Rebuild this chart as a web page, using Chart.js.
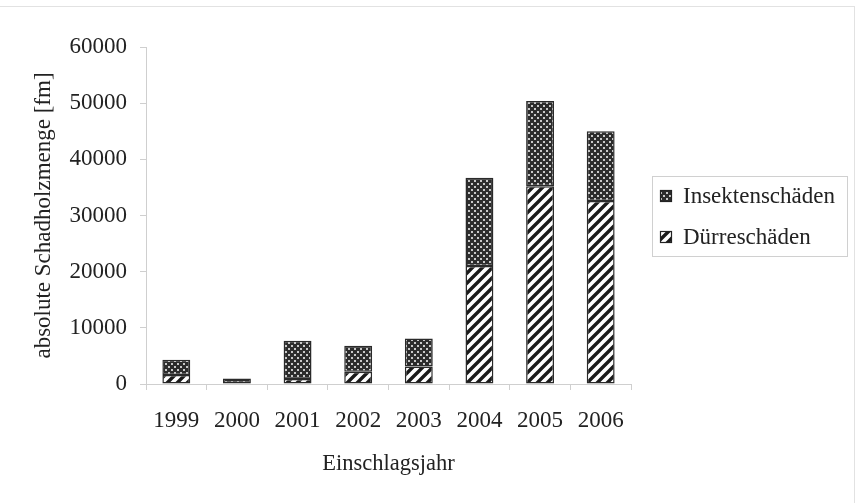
<!DOCTYPE html>
<html>
<head>
<meta charset="utf-8">
<script src="https://cdn.jsdelivr.net/npm/chart.js@4"></script>
<style>
  html, body { margin: 0; padding: 0; background: #fff; }
  #wrap { position: relative; width: 857px; height: 503px; }
  #frame { position: absolute; left: 0; top: 6px; width: 855px; height: 497px;
           border-top: 1px solid #e2e2e2; border-right: 1px solid #e2e2e2; box-sizing: border-box; }
  canvas { position: absolute; left: 0; top: 0; }
</style>
</head>
<body>
<div id="wrap">
  <div id="frame"></div>
  <canvas id="chart" width="857" height="503"></canvas>
</div>
<script>
const jahre = ["1999", "2000", "2001", "2002", "2003", "2004", "2005", "2006"];
const duerre = [1600, 200, 900, 2200, 3100, 21000, 35200, 32600];
const insekten = [2700, 800, 6800, 4600, 5000, 15700, 15200, 12400];
const yTicks = [0, 10000, 20000, 30000, 40000, 50000, 60000];

const FONT = "'Liberation Serif', 'Times New Roman', serif";
const TXT = "#222";
const FS = 23;

/* ---------- Muster ---------- */
function musterStreifen() {
  const c = document.createElement("canvas");
  c.width = 10; c.height = 10;
  const g = c.getContext("2d");
  g.fillStyle = "#fff";
  g.fillRect(0, 0, 10, 10);
  g.strokeStyle = "#1a1a1a";
  g.lineWidth = 3.4;
  g.beginPath();
  g.moveTo(-5, 5); g.lineTo(5, -5);
  g.moveTo(0, 10); g.lineTo(10, 0);
  g.moveTo(5, 15); g.lineTo(15, 5);
  g.stroke();
  return g.createPattern(c, "repeat");
}

// dunkler Grund mit versetzten hellen Punkten
function musterPunkte() {
  const c = document.createElement("canvas");
  c.width = 6; c.height = 6;
  const g = c.getContext("2d");
  g.fillStyle = "#2c2c2c";
  g.fillRect(0, 0, 6, 6);
  g.fillStyle = "#c8c8c8";
  g.fillRect(0, 0, 2, 2);
  g.fillRect(3, 3, 2, 2);
  return g.createPattern(c, "repeat");
}

const streifen = musterStreifen();
const punkte = musterPunkte();

/* ---------- Legende ---------- */
const legendePlugin = {
  id: "legendeBox",
  afterDraw(chart) {
    const ctx = chart.ctx;
    ctx.save();
    ctx.strokeStyle = "#d0d0d0";
    ctx.lineWidth = 1;
    ctx.strokeRect(652.5, 176.5, 195, 80);

    const eintraege = [
      { label: chart.data.datasets[1].label, fill: punkte, y: 196 },
      { label: chart.data.datasets[0].label, fill: streifen, y: 237 }
    ];
    ctx.font = FS + "px " + FONT;
    ctx.textBaseline = "middle";
    eintraege.forEach(e => {
      ctx.fillStyle = e.fill;
      ctx.fillRect(660, e.y - 6, 12, 12);
      ctx.strokeStyle = "#222";
      ctx.lineWidth = 1.2;
      ctx.strokeRect(660.5, e.y - 5.5, 11, 11);
      ctx.fillStyle = TXT;
      ctx.fillText(e.label, 683, e.y + 1);
    });
    ctx.restore();
  }
};

/* ---------- Diagramm ---------- */
new Chart(document.getElementById("chart"), {
  type: "bar",
  data: {
    labels: jahre,
    datasets: [
      {
        label: "Dürreschäden",
        data: duerre,
        backgroundColor: streifen,
        borderColor: "#2a2a2a",
        borderWidth: 1.5,
        borderSkipped: false,
        categoryPercentage: 1,
        barPercentage: 0.46
      },
      {
        label: "Insektenschäden",
        data: insekten,
        backgroundColor: punkte,
        borderColor: "#2a2a2a",
        borderWidth: 1.5,
        borderSkipped: false,
        categoryPercentage: 1,
        barPercentage: 0.46
      }
    ]
  },
  options: {
    responsive: false,
    animation: false,
    layout: { padding: { top: 47, right: 226, bottom: 25, left: 0 } },
    plugins: {
      legend: { display: false },
      tooltip: { enabled: false }
    },
    scales: {
      x: {
        stacked: true,
        grid: { drawOnChartArea: false, drawTicks: true, tickLength: 6, color: "#cfcfcf", offset: true },
        border: { color: "#cfcfcf" },
        ticks: { color: TXT, font: { family: FONT, size: FS }, padding: 17, maxRotation: 0 },
        title: { display: true, text: "Einschlagsjahr", color: TXT, font: { family: FONT, size: FS - 0.5 }, padding: { top: 14, bottom: 0 } },
        afterFit(scale) { scale.height = 94; }
      },
      y: {
        stacked: true,
        min: 0,
        max: 60000,
        afterBuildTicks(scale) { scale.ticks = yTicks.map(v => ({ value: v })); },
        grid: { drawOnChartArea: false, drawTicks: true, tickLength: 6, color: "#cfcfcf" },
        border: { color: "#cfcfcf" },
        ticks: { color: TXT, font: { family: FONT, size: FS }, padding: 13, callback: v => String(v) },
        title: { display: true, text: "absolute Schadholzmenge [fm]", color: TXT, font: { family: FONT, size: FS }, padding: { top: 30, bottom: 0 } },
        afterFit(scale) { scale.width = 146; }
      }
    }
  },
  plugins: [legendePlugin]
});
</script>
</body>
</html>
